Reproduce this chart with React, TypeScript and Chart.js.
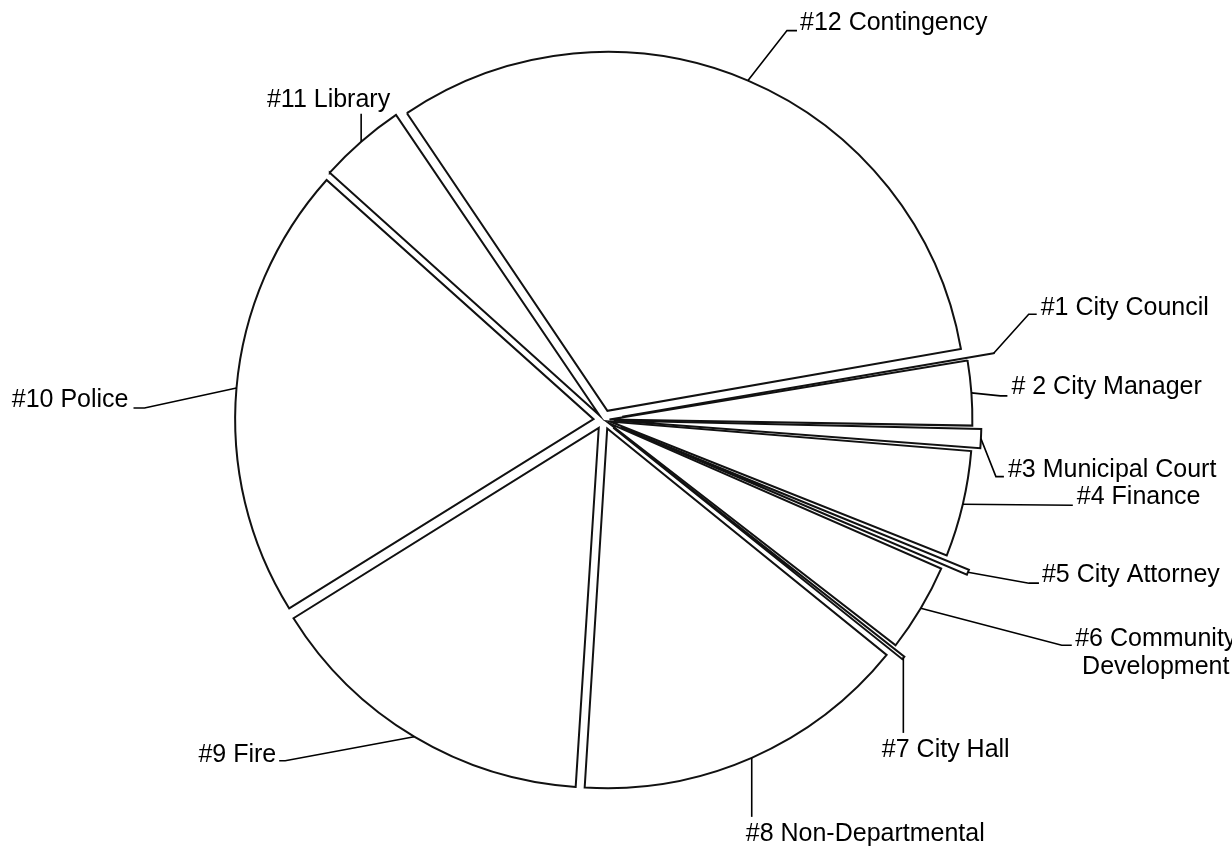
import React, { useEffect, useRef } from "react";
import { Chart, registerables } from "chart.js";

Chart.register(...registerables);

// ---- data ----
const departments = [
  "#1 City Council",
  "# 2 City Manager",
  "#3 Municipal Court",
  "#4 Finance",
  "#5 City Attorney",
  "#6 Community\nDevelopment",
  "#7 City Hall",
  "#8 Non-Departmental",
  "#9 Fire",
  "#10 Police",
  "#11 Library",
  "#12 Contingency",
];

// share of total budget, percent
const budgetShares = [0.11, 2.94, 0.97, 4.79, 0.47, 3.99, 0.31, 15.18, 15.13, 20.49, 3.93, 31.69];

// ---- style ----
const explodeOffsets = [76, 24, 41, 26, 75, 25, 50, 37, 37, 40, 25, 40];
const startRotation = 80.1;

type LabelLayout = {
  leg: [number, number];
  tail: number;
  align: CanvasTextAlign;
  dx: number;
  dy: number;
};

const labelLayouts: LabelLayout[] = [
  { leg: [35, -39], tail: 8, align: "left", dx: 4, dy: 1 },
  { leg: [29, 3], tail: 7, align: "left", dx: 4, dy: -2 },
  { leg: [15, 38], tail: 8, align: "left", dx: 4, dy: 0 },
  { leg: [110, 1], tail: 0, align: "left", dx: 4, dy: -1 },
  { leg: [61, 11], tail: 10, align: "left", dx: 3, dy: -1 },
  { leg: [141, 37], tail: 10, align: "center", dx: 84, dy: 1 },
  { leg: [0, 75], tail: 0, align: "left", dx: -21.5, dy: 24 },
  { leg: [0, 59], tail: 0, align: "left", dx: -6, dy: 24 },
  { leg: [-129, 24], tail: -6, align: "right", dx: -3, dy: 1 },
  { leg: [-92, 20], tail: -11, align: "right", dx: -5, dy: -1 },
  { leg: [0, -28], tail: 0, align: "right", dx: 29, dy: -7 },
  { leg: [39, -50], tail: 10, align: "left", dx: 3, dy: -1 },
];

const leaderLabels = {
  id: "leaderLabels",
  afterDatasetsDraw(chart: any) {
    const ctx: CanvasRenderingContext2D = chart.ctx;
    const meta = chart.getDatasetMeta(0);
    ctx.save();
    ctx.font = '25px "Liberation Sans", Arial, sans-serif';
    ctx.fillStyle = "#000";
    ctx.strokeStyle = "#000";
    ctx.lineWidth = 1.6;
    ctx.lineJoin = "miter";
    ctx.textBaseline = "alphabetic";
    meta.data.forEach((el: any, i: number) => {
      const p = el.getProps(["x", "y", "startAngle", "endAngle", "outerRadius"], true);
      const circ = p.endAngle - p.startAngle;
      const t = (el.options.offset || 0) / 4;
      const fix = 1 - Math.sin(Math.min(Math.PI, circ));
      const mid = (p.startAngle + p.endAngle) / 2;
      const r = t + p.outerRadius + t * fix;
      const sx = p.x + Math.cos(mid) * r;
      const sy = p.y + Math.sin(mid) * r;
      const lay = labelLayouts[i];
      const ex = sx + lay.leg[0];
      const ey = sy + lay.leg[1];
      const endX = ex + lay.tail;
      const endY = ey;
      ctx.beginPath();
      ctx.moveTo(sx, sy);
      ctx.lineTo(ex, ey);
      if (lay.tail !== 0) ctx.lineTo(endX, endY);
      ctx.stroke();
      ctx.textAlign = lay.align;
      const lines = String(chart.data.labels[i]).split("\n");
      lines.forEach((line: string, k: number) => {
        ctx.fillText(line, endX + lay.dx, endY + lay.dy + k * 28);
      });
    });
    ctx.restore();
  },
};

export default function App() {
  const canvasRef = useRef<HTMLCanvasElement | null>(null);

  useEffect(() => {
    if (!canvasRef.current) return;
    const chart = new Chart(canvasRef.current, {
      type: "pie",
      data: {
        labels: departments,
        datasets: [
          {
            data: budgetShares,
            backgroundColor: "#ffffff",
            borderColor: "#111111",
            borderWidth: 2,
            borderJoinStyle: "miter",
            offset: explodeOffsets,
            radius: 358,
          } as any,
        ],
      },
      options: {
        animation: false,
        responsive: true,
        maintainAspectRatio: false,
        events: [],
        rotation: startRotation,
        layout: { padding: { left: 0, right: 25, top: 0, bottom: 8 } },
        plugins: {
          legend: { display: false },
          tooltip: { enabled: false },
          title: { display: false },
        },
      } as any,
      plugins: [leaderLabels],
    });
    return () => chart.destroy();
  }, []);

  return (
    <div style={{ position: "fixed", left: 0, top: 0, width: 1232, height: 848, background: "#fff" }}>
      <canvas ref={canvasRef} />
    </div>
  );
}
